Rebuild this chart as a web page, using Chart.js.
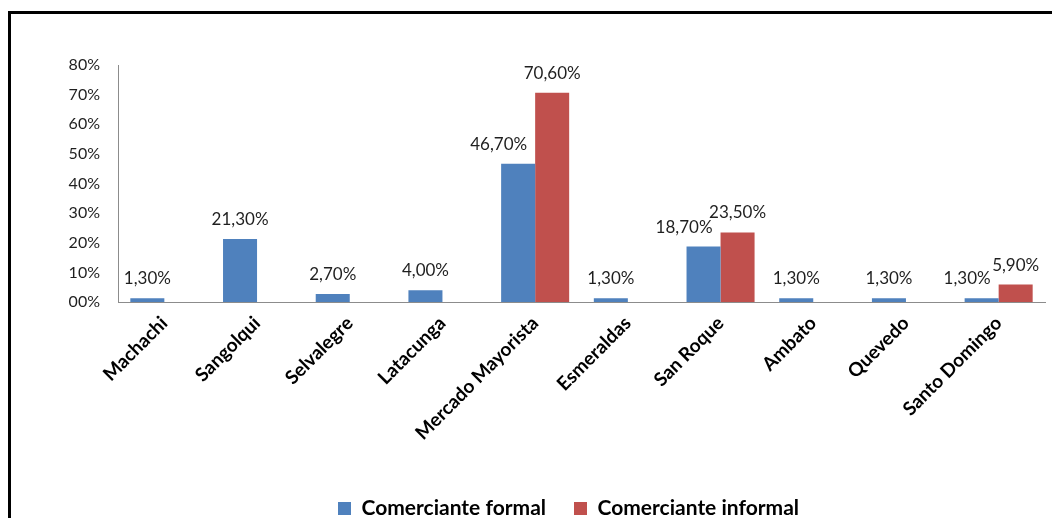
<!DOCTYPE html>
<html>
<head>
<meta charset="utf-8">
<script src="https://cdn.jsdelivr.net/npm/chart.js@4/dist/chart.umd.min.js"></script>
<style>
  html, body { margin: 0; padding: 0; background: #fff; overflow: hidden; }
  #frame {
    position: absolute; left: 8px; top: 11px;
    width: 1100px; height: 560px;
    border: 3px solid #000; box-sizing: border-box;
  }
  #wrap { position: absolute; left: 0; top: 0; width: 1138px; height: 529px; }
</style>
</head>
<body>
<div id="frame"></div>
<div id="wrap"><canvas id="chart"></canvas></div>
<script>
// Chart data
const categories = ['Machachi', 'Sangolqui', 'Selvalegre', 'Latacunga', 'Mercado Mayorista',
  'Esmeraldas', 'San Roque', 'Ambato', 'Quevedo', 'Santo Domingo'];
const formalValues = [1.3, 21.3, 2.7, 4.0, 46.7, 1.3, 18.7, 1.3, 1.3, 1.3];
const informalValues = [null, null, null, null, 70.6, null, 23.5, null, null, 5.9];
const yTicks = [0, 10, 20, 30, 40, 50, 60, 70, 80];

const BLUE = '#4F81BD';
const RED = '#C0504D';
const FONT = 'Lato, "Open Sans", sans-serif';

function pct(v) {
  return v.toFixed(2).replace('.', ',') + '%';
}

// Value labels above bars
const valueLabels = {
  id: 'valueLabels',
  afterDatasetsDraw(chart) {
    const ctx = chart.ctx;
    ctx.save();
    ctx.font = '17px ' + FONT;
    ctx.fillStyle = '#1f1f1f';
    ctx.textBaseline = 'alphabetic';
    ctx.textAlign = 'left';
    chart.data.datasets.forEach((ds, di) => {
      const meta = chart.getDatasetMeta(di);
      meta.data.forEach((bar, i) => {
        const v = ds.data[i];
        if (v === null || v === undefined) return;
        const txt = pct(v);
        const w = ctx.measureText(txt).width;
        let x = bar.x - w / 2;
        // shift formal label left when the informal bar next to it is taller
        if (di === 0) {
          const other = chart.data.datasets[1].data[i];
          if (other !== null && other > v) {
            x = bar.x + bar.width / 2 - 8 - w;
          }
        }
        ctx.fillText(txt, x, bar.y - 14);
      });
    });
    ctx.restore();
  }
};

// legend in the original sits a bit right of the plot centre
const legendShift = {
  id: 'legendShift',
  afterLayout(chart) {
    chart.legend.left += 46;
    chart.legend.right += 46;
  }
};

new Chart(document.getElementById('chart'), {
  type: 'bar',
  data: {
    labels: categories,
    datasets: [
      {
        label: 'Comerciante formal',
        data: formalValues,
        backgroundColor: BLUE,
        borderWidth: 0
      },
      {
        label: 'Comerciante informal',
        data: informalValues,
        backgroundColor: RED,
        borderWidth: 0
      }
    ]
  },
  options: {
    responsive: true,
    maintainAspectRatio: false,
    animation: false,
    categoryPercentage: 0.734,
    barPercentage: 1.0,
    layout: { padding: { top: 65, right: 93, left: 0, bottom: 0 } },
    plugins: {
      legend: {
        position: 'bottom',
        labels: {
          color: '#000',
          font: { family: FONT, size: 21, weight: 'bold' },
          boxWidth: 13,
          boxHeight: 13,
          padding: 28
        }
      },
      tooltip: { enabled: false }
    },
    scales: {
      x: {
        grid: { display: false },
        border: { display: true, color: '#8c8c8c', width: 1 },
        ticks: {
          color: '#000',
          font: { family: FONT, size: 19, weight: 'bold' },
          minRotation: 45,
          maxRotation: 45,
          padding: 2
        },
        afterFit(scale) { scale.height = 168; }
      },
      y: {
        min: 0,
        max: 80,
        grid: { display: false },
        border: { display: true, color: '#8c8c8c', width: 1 },
        afterBuildTicks(scale) { scale.ticks = yTicks.map(v => ({ value: v })); },
        ticks: {
          color: '#1f1f1f',
          font: { family: FONT, size: 16 },
          padding: 10,
          callback: v => (v === 0 ? '00%' : v + '%')
        },
        afterFit(scale) { scale.width = 118; }
      }
    }
  },
  plugins: [valueLabels, legendShift]
});
</script>
</body>
</html>
